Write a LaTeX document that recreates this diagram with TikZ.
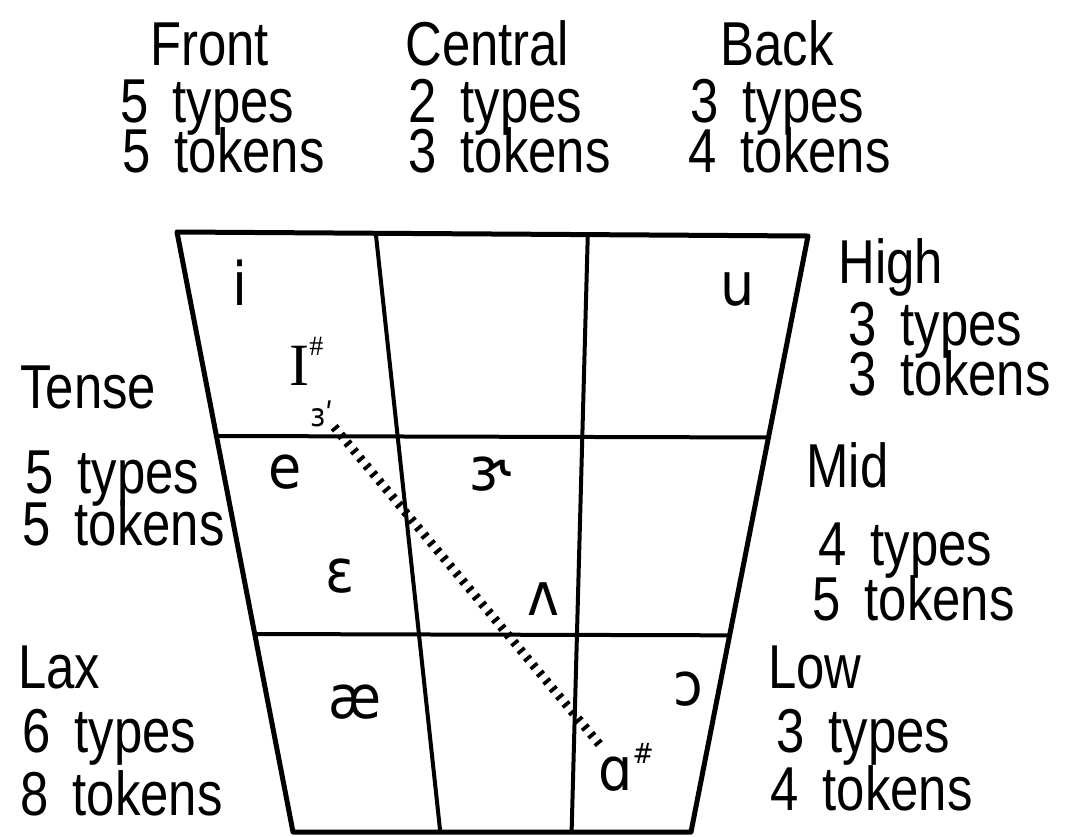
\documentclass[tikz,border=0pt]{standalone}
\usepackage{fontspec}
\setmainfont[FakeStretch=0.82,WordSpace=1.7]{Liberation Sans}
\newfontfamily\ipafont[FakeStretch=0.9]{DejaVu Sans}
\newfontfamily\romfont{Liberation Serif}
\usetikzlibrary{calc}

\begin{document}
\begin{tikzpicture}[x=.5pt,y=-.5pt,
  lbl/.style={anchor=base west,inner sep=0pt,font={\fontsize{31}{31}\selectfont}},
  vow/.style={anchor=base,inner sep=0pt,font={\ipafont\fontsize{30}{30}\selectfont}},
  frame/.style={line width=2.5pt,line join=round},
  grid/.style={line width=2pt},
  glide/.style={line width=4.5pt,dash pattern=on 1.8pt off 3.2pt}]
  \useasboundingbox (0,0) rectangle (1081,836);
  % corners of the vowel space
  \coordinate (TL) at (177,232);
  \coordinate (TR) at (808,236);
  \coordinate (BR) at (691,832);
  \coordinate (BL) at (293,832);
  \draw[frame] (TL)--(TR)--(BR)--(BL)--cycle;
  \draw[grid] ($(TL)!.315!(TR)$)--($(BL)!.37!(BR)$);
  \draw[grid] ($(TL)!.651!(TR)$)--($(BL)!.70!(BR)$);
  \draw[grid] ($(TL)!.34!(BL)$)--($(TR)!.338!(BR)$);
  \draw[grid] ($(TL)!.67!(BL)$)--($(TR)!.67!(BR)$);
  % column, row and count labels
  \foreach \x/\y/\txt/\id in {
    150/65/Front/front, 405/65/Central/central, 720/65/Back/back,
    120/122/5 types/frty, 122/172/5 tokens/frtk,
    408/122/2 types/cety, 408/172/3 tokens/cetk,
    690/122/3 types/baty, 688/172/4 tokens/batk,
    838/283/High/high, 848/345/3 types/hity, 848/395/3 tokens/hitk,
    806/487/Mid/mid, 818/565/4 types/mity, 812/620/5 tokens/mitk,
    768/688/Low/low, 776/752/3 types/loty, 770/810/4 tokens/lotk,
    20/408/Tense/tense, 25/493/5 types/tety, 22/545/5 tokens/tetk,
    18/688/Lax/lax, 22/752/6 types/laty, 20/815/8 tokens/latk}{
    \node[lbl] (\id) at (\x,\y) {\txt};
  }
  % vowels
  \node[vow] (vi) at (240,305) {i};
  \node[vow] (vu) at (738,305) {u};
  \node[vow,anchor=base west,font={\romfont\fontsize{30}{30}\selectfont}] (vI) at (289,385)
    {I\raisebox{.5em}{\fontsize{14}{14}\selectfont\#}};
  \node[vow,font={\ipafont\fontsize{16}{16}\selectfont}] (vschwa) at (322,426) {ɜʹ};
  \node[vow] (ve) at (285,488) {e};
  \node[vow] (ver) at (490,490) {ɝ};
  \node[vow] (veps) at (340,592) {ɛ};
  \node[vow] (vwedge) at (543,615) {ʌ};
  \node[vow] (vo) at (688,705) {ɔ};
  \node[vow] (vae) at (355,718) {æ};
  \node[vow,anchor=base west] (va) at (598,790)
    {ɑ\raisebox{.45em}{\fontsize{14}{14}\selectfont\#}};
  \coordinate (glideend) at (600,745);
  \draw[glide] (vschwa.south east)--(glideend);
\end{tikzpicture}
\end{document}
